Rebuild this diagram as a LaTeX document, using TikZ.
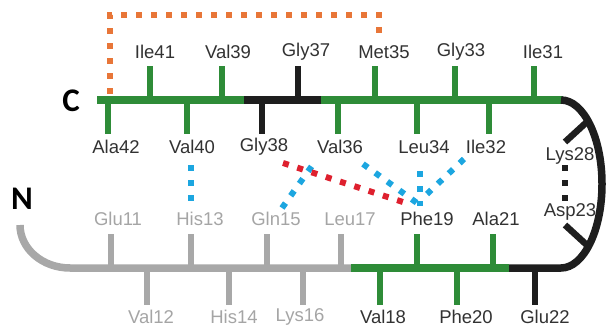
\documentclass[tikz,border=0pt]{standalone}
\usepackage{fontspec}
\setmainfont{Liberation Sans}
\newfontfamily\calfont{Carlito}
\definecolor{bbgreen}{RGB}{46,140,56}
\definecolor{bbgray}{RGB}{168,168,168}
\definecolor{bbblack}{RGB}{30,30,30}
\definecolor{txtdark}{RGB}{50,50,50}
\definecolor{txtlight}{RGB}{165,165,165}
\definecolor{dotorange}{RGB}{232,118,56}
\definecolor{dotred}{RGB}{222,32,46}
\definecolor{dotblue}{RGB}{28,166,224}
\begin{document}
\begin{tikzpicture}[x=1pt,y=-1pt,
  bb/.style={line width=7.5pt},
  tick/.style={line width=6.5pt},
  lab/.style={inner sep=0pt,font=\fontsize{18.5}{18.5}\selectfont,text=txtdark},
  lablight/.style={lab,text=txtlight},
  term/.style={inner sep=0pt,font=\calfont\bfseries\fontsize{33}{33}\selectfont,text=black},
  hb/.style={line width=6pt,dash pattern=on 6pt off 9pt}]
\useasboundingbox (0,0) rectangle (609,331);
% terminals
\node[term] (C) at (71,101) {C};
\node[term] (N) at (22,199) {N};
% top backbone
\draw[bb,bbgreen] (97,100) -- (246,100);
\draw[bb,bbblack] (244,100) -- (323,100);
\draw[bb,bbgreen] (321,100) -- (563,100);
\draw[bb,bbblack] (561,100) .. controls (583.6,100) and (602,137.6) .. (602,184)
  .. controls (602,230.4) and (583.6,268) .. (561,268) -- (507,268);
% bottom backbone
\draw[bb,bbgray] (20,225) .. controls (20,248.7) and (42.4,268) .. (70,268) -- (353,268);
\draw[bb,bbgreen] (351,268) -- (509,268);
% top ticks up
\foreach \x/\c in {150/bbgreen,222/bbgreen,298/bbblack,375/bbgreen,455/bbgreen,534/bbgreen}
  \draw[tick,\c] (\x,100) -- (\x,66);
% top ticks down
\foreach \x/\c in {108/bbgreen,187/bbgreen,262/bbblack,338/bbgreen,417/bbgreen,489/bbgreen}
  \draw[tick,\c] (\x,100) -- (\x,134);
% bottom ticks up
\foreach \x/\c in {111/bbgray,191/bbgray,267/bbgray,341/bbgray,417/bbgreen,493/bbgreen}
  \draw[tick,\c] (\x,268) -- (\x,234);
% bottom ticks down
\foreach \x/\c in {147/bbgray,229/bbgray,303/bbgray,380/bbgreen,457/bbgreen,535/bbblack}
  \draw[tick,\c] (\x,268) -- (\x,305);
% arc ticks
\draw[tick,bbblack] (565,142) -- (589,120);
\draw[tick,bbblack] (565,225) -- (589,247);
% labels top
\node[lab] (Ile41) at (155,52) {Ile41};
\node[lab] (Val39) at (228,52) {Val39};
\node[lab] (Gly37) at (306,52) {Gly37};
\node[lab] (Met35) at (384,52) {Met35};
\node[lab] (Gly33) at (461,52) {Gly33};
\node[lab] (Ile31) at (543,52) {Ile31};
\node[lab] (Ala42) at (116,147) {Ala42};
\node[lab] (Val40) at (192,147) {Val40};
\node[lab] (Gly38) at (264,147) {Gly38};
\node[lab] (Val36) at (340,147) {Val36};
\node[lab] (Leu34) at (424,147) {Leu34};
\node[lab] (Ile32) at (486,147) {Ile32};
\node[lab] (Lys28) at (570,156) {Lys28};
\node[lab] (Asp23) at (570,212) {Asp23};
% labels bottom
\node[lablight] (Glu11) at (118,219) {Glu11};
\node[lablight] (His13) at (200,219) {His13};
\node[lablight] (Gln15) at (276,219) {Gln15};
\node[lablight] (Leu17) at (350,219) {Leu17};
\node[lab] (Phe19) at (427,219) {Phe19};
\node[lab] (Ala21) at (496,219) {Ala21};
\node[lablight] (Val12) at (151,317) {Val12};
\node[lablight] (His14) at (234,317) {His14};
\node[lablight] (Lys16) at (300,317) {Lys16};
\node[lab] (Val18) at (383,317) {Val18};
\node[lab] (Phe20) at (466,317) {Phe20};
\node[lab] (Glu22) at (545,317) {Glu22};
% interaction endpoints
\coordinate (o1) at (110,94);
\coordinate (o2) at (110,15);
\coordinate (o3) at (379,15);
\coordinate (o4) at (379,37);
\coordinate (v40) at (191,165);
\coordinate (h13) at (191,206);
\coordinate (g38) at (283,163);
\coordinate (f19r) at (406,203);
\coordinate (q15) at (282,208);
\coordinate (q15e) at (314,163);
\coordinate (v36) at (363,164);
\coordinate (f19a) at (417,203);
\coordinate (l34) at (420,171);
\coordinate (f19b) at (420,206);
\coordinate (i32) at (464,159);
\coordinate (f19c) at (427,194);
\coordinate (k28) at (565,165);
\coordinate (d23) at (565,201);
% interactions
\draw[hb,dotorange] (o1) -- (o2) -- (o3) -- (o4);
\draw[hb,dotblue] (v40) -- (h13);
\draw[hb,dotblue] (q15) -- (q15e);
\draw[hb,dotred] (g38) -- (f19r);
\draw[hb,dotblue] (v36) -- (f19a);
\draw[hb,dotblue] (l34) -- (f19b);
\draw[hb,dotblue] (i32) -- (f19c);
\draw[hb,bbblack] (k28) -- (d23);
\end{tikzpicture}
\end{document}
